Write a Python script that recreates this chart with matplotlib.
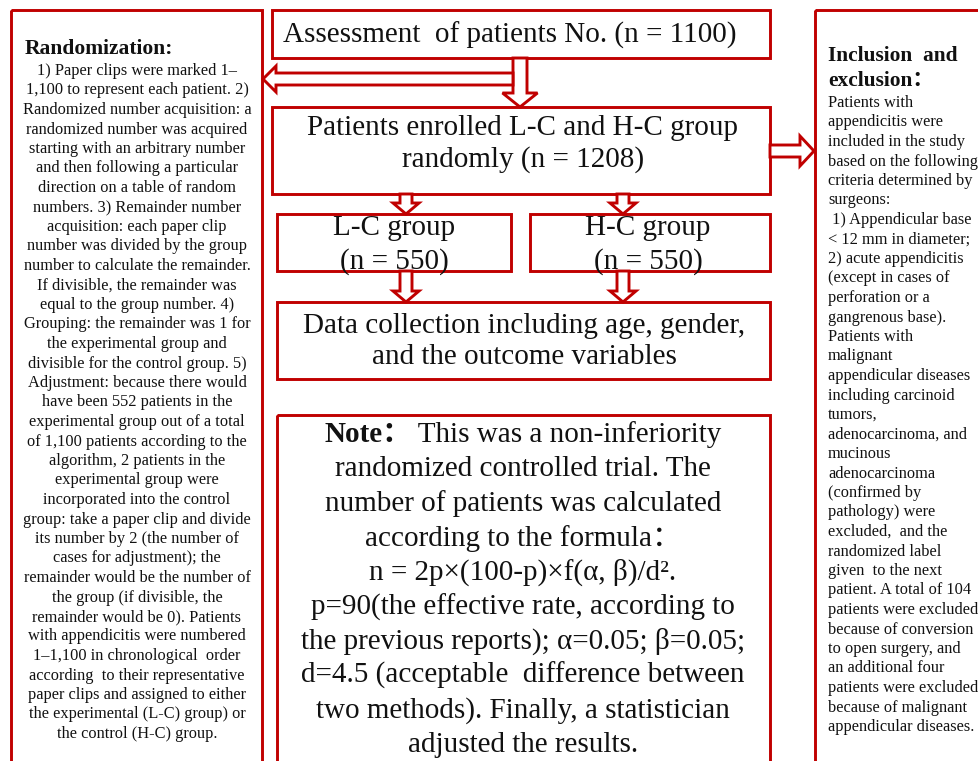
import matplotlib
matplotlib.use("Agg")
import matplotlib.pyplot as plt
from matplotlib.patches import Rectangle, Polygon

RED = "#C00000"
TXT = "#111111"
FAM = ["Liberation Serif", "Noto Sans CJK SC", "DejaVu Serif"]

n_total = 1100
n_enrolled = 1208
n_lc = 550
n_hc = 550

top_label = f"Assessment  of patients No. (n = {n_total})"
enroll_lines = ["Patients enrolled L-C and H-C group", f"randomly (n = {n_enrolled})"]
lc_lines = ["L-C group", f"(n = {n_lc})"]
hc_lines = ["H-C group", f"(n = {n_hc})"]
data_lines = ["Data collection including age, gender,", "and the outcome variables"]

rand_title = "Randomization:"
rand_lines = [
    "1) Paper clips were marked 1\u2013",
    "1,100 to represent each patient. 2)",
    "Randomized number acquisition: a",
    "randomized number was acquired",
    "starting with an arbitrary number",
    "and then following a particular",
    "direction on a table of random",
    "numbers. 3) Remainder number",
    "acquisition: each paper clip",
    "number was divided by the group",
    "number to calculate the remainder.",
    "If divisible, the remainder was",
    "equal to the group number. 4)",
    "Grouping: the remainder was 1 for",
    "the experimental group and",
    "divisible for the control group. 5)",
    "Adjustment: because there would",
    "have been 552 patients in the",
    "experimental group out of a total",
    "of 1,100 patients according to the",
    "algorithm, 2 patients in the",
    "experimental group were",
    "incorporated into the control",
    "group: take a paper clip and divide",
    "its number by 2 (the number of",
    "cases for adjustment); the",
    "remainder would be the number of",
    "the group (if divisible, the",
    "remainder would be 0). Patients",
    "with appendicitis were numbered",
    "1\u20131,100 in chronological  order",
    "according  to their representative",
    "paper clips and assigned to either",
    "the experimental (L-C) group) or",
    "the control (H-C) group.",
]

incl_title = ["Inclusion  and", "exclusion\uff1a"]
incl_lines = [
    "Patients with",
    "appendicitis were",
    "included in the study",
    "based on the following",
    "criteria determined by",
    "surgeons:",
    " 1) Appendicular base",
    "< 12 mm in diameter;",
    "2) acute appendicitis",
    "(except in cases of",
    "perforation or a",
    "gangrenous base).",
    "Patients with",
    "malignant",
    "appendicular diseases",
    "including carcinoid",
    "tumors,",
    "adenocarcinoma, and",
    "mucinous",
    "adenocarcinoma",
    "(confirmed by",
    "pathology) were",
    "excluded,  and the",
    "randomized label",
    "given  to the next",
    "patient. A total of 104",
    "patients were excluded",
    "because of conversion",
    "to open surgery, and",
    "an additional four",
    "patients were excluded",
    "because of malignant",
    "appendicular diseases.",
]

note_head = "Note\uff1a"
note_lines = [
    " This was a non-inferiority",
    "randomized controlled trial. The",
    "number of patients was calculated",
    "according to the formula\uff1a",
    "n = 2p\u00d7(100-p)\u00d7f(\u03b1, \u03b2)/d\u00b2.",
    "p=90(the effective rate, according to",
    "the previous reports); \u03b1=0.05; \u03b2=0.05;",
    "d=4.5 (acceptable  difference between",
    "two methods). Finally, a statistician",
    "adjusted the results.",
]

W, H = 979, 761
fig = plt.figure(figsize=(W / 100, H / 100), dpi=100)
ax = fig.add_axes([0, 0, 1, 1])
ax.set_xlim(0, W)
ax.set_ylim(H, 0)
ax.axis("off")

LW = 2.1
BIG = 21


def box(x0, y0, x1, y1):
    ax.add_patch(Rectangle((x0, y0), x1 - x0, y1 - y0, fill=False,
                           edgecolor=RED, linewidth=LW, zorder=2))


def down_arrow(xc, y0, y1, sw=14, hw=35, hl=14):
    pts = [(xc - sw / 2, y0), (xc + sw / 2, y0), (xc + sw / 2, y1 - hl),
           (xc + hw / 2, y1 - hl), (xc, y1), (xc - hw / 2, y1 - hl),
           (xc - sw / 2, y1 - hl)]
    ax.add_patch(Polygon(pts, closed=True, facecolor="white",
                         edgecolor=RED, linewidth=LW, zorder=3))


def horiz_arrow(yc, x0, x1, sw=12, hw=26, hl=13):
    d = 1 if x1 > x0 else -1
    xb = x1 - d * hl
    pts = [(x0, yc - sw / 2), (xb, yc - sw / 2), (xb, yc - hw / 2), (x1, yc),
           (xb, yc + hw / 2), (xb, yc + sw / 2), (x0, yc + sw / 2)]
    ax.add_patch(Polygon(pts, closed=True, facecolor="white",
                         edgecolor=RED, linewidth=LW, zorder=3))


def txt(x, y, s, size, ha="center", weight="normal", z=5):
    return ax.text(x, y, s, fontsize=size, ha=ha, va="center", family=FAM,
                   color=TXT, fontweight=weight, zorder=z)


# side boxes (open at the bottom / right)
box(11, 10, 262, 790)
box(815, 10, 1000, 790)

# central boxes
box(272, 10, 770, 58)
box(272, 107, 770, 194)
box(277, 214, 511, 271)
box(530, 214, 770, 271)
box(277, 302, 770, 379)
box(277, 415, 770, 790)

# arrows
down_arrow(520, 58, 107)
horiz_arrow(79, 513, 263)
horiz_arrow(151, 770, 814, sw=12, hw=30, hl=14)
down_arrow(406, 194, 214, sw=12, hw=26, hl=11)
down_arrow(623, 194, 214, sw=12, hw=26, hl=11)
down_arrow(406, 271, 302, sw=12, hw=26, hl=11)
down_arrow(623, 271, 302, sw=12, hw=26, hl=11)

# central texts
txt(510, 35, top_label, BIG)
for i, s in enumerate(enroll_lines):
    txt(523, 128 + i * 32, s, BIG)
for i, s in enumerate(lc_lines):
    txt(394, 228 + i * 34, s, BIG, z=2.5)
for i, s in enumerate(hc_lines):
    txt(648, 228 + i * 34, s, BIG, z=2.5)
for i, s in enumerate(data_lines):
    txt(524, 326 + i * 31, s, BIG)

# note
note_y0, note_dy = 435, 34.4
fig.canvas.draw()
r = fig.canvas.get_renderer()
th = txt(0, note_y0, note_head, BIG, ha="left", weight="bold")
tb = txt(0, note_y0, note_lines[0], BIG, ha="left")
wh = th.get_window_extent(r).width
wb = tb.get_window_extent(r).width
x0 = 523 - (wh + wb) / 2
th.set_x(x0)
tb.set_x(x0 + wh)
for i, s in enumerate(note_lines[1:], start=1):
    txt(523, note_y0 + i * note_dy, s, BIG)

# randomization text
txt(25, 49, rand_title, 15.5, ha="left", weight="bold")
for i, s in enumerate(rand_lines):
    txt(137, 71 + i * 19.5, s, 11.8)

# inclusion/exclusion text
txt(828, 56, incl_title[0], 15.4, ha="left", weight="bold")
txt(828, 81, incl_title[1], 15.4, ha="left", weight="bold")
for i, s in enumerate(incl_lines):
    txt(828, 103 + i * 19.5, s, 11.8, ha="left")

fig.savefig("out.png", dpi=100, facecolor="white")
